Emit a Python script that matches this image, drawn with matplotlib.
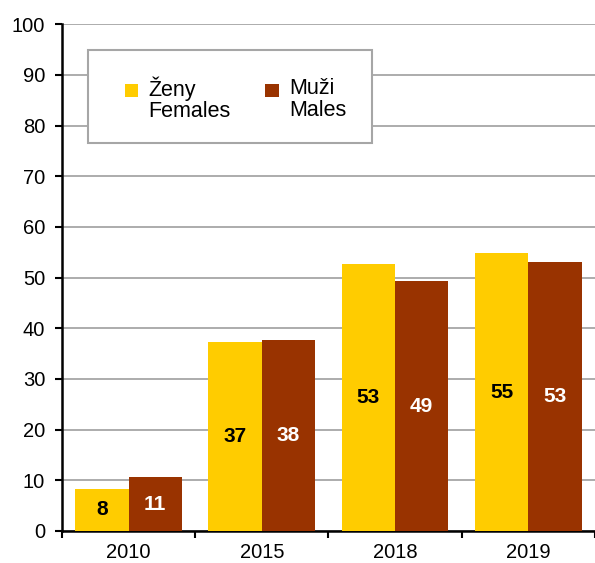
import numpy as np
import matplotlib.pyplot as plt
from matplotlib.patches import Rectangle
from matplotlib.container import BarContainer
from matplotlib.legend_handler import HandlerPatch

years = ["2010", "2015", "2018", "2019"]
females = [8.3, 37.3, 52.7, 54.8]
males = [10.6, 37.7, 49.3, 53.1]
female_labels = ["8", "37", "53", "55"]
male_labels = ["11", "38", "49", "53"]

plt.rcParams["font.family"] = ["Liberation Sans", "DejaVu Sans"]

fig = plt.figure(figsize=(5.95, 5.63), dpi=100)
ax = fig.add_axes([0.104, 0.057, 0.896, 0.9])

x = np.arange(len(years))
w = 0.4
bf = ax.bar(x - w / 2, females, w, color="#FFCC00", zorder=3, label="Ženy\nFemales")
bm = ax.bar(x + w / 2, males, w, color="#993300", zorder=3, label="Muži\nMales")

for rect, txt in zip(bf, female_labels):
    ax.text(rect.get_x() + rect.get_width() / 2, rect.get_height() / 2, txt,
            ha="center", va="center", fontsize=15, fontweight="bold", color="black", zorder=4)
for rect, txt in zip(bm, male_labels):
    ax.text(rect.get_x() + rect.get_width() / 2, rect.get_height() / 2, txt,
            ha="center", va="center", fontsize=15, fontweight="bold", color="white", zorder=4)

ax.set_ylim(0, 100)
ax.set_yticks(range(0, 101, 10))
ax.set_xlim(-0.5, 3.5)
ax.set_xticks(x)
ax.set_xticklabels(years)
ax.set_xticks(np.arange(-0.5, 4, 1), minor=True)
ax.tick_params(axis="x", which="major", length=0, pad=9, labelsize=14.5)
ax.tick_params(axis="x", which="minor", length=5, width=1.5, direction="out")
ax.tick_params(axis="y", length=5, width=1.5, labelsize=14.5, pad=7)

ax.grid(axis="y", color="#A6A6A6", linewidth=1.3, zorder=0)
ax.spines["top"].set_visible(False)
ax.spines["right"].set_visible(False)
ax.spines["left"].set_linewidth(1.8)
ax.spines["bottom"].set_linewidth(1.8)

# legend box drawn separately so it sits over the gridlines
box = Rectangle((0.0486, 0.765), 0.5327, 0.184, transform=ax.transAxes,
                facecolor="white", edgecolor="#A6A6A6", linewidth=1.5, zorder=2)
ax.add_patch(box)


def top_square(legend, orig_handle, xdescent, ydescent, width, height, fontsize):
    # square handle lifted to the first line of a two-line label
    s = 0.62 * fontsize
    return Rectangle((-xdescent, -ydescent + 0.45 * fontsize), s, s)


def first_bar(legend_handle, orig_handle):
    legend_handle.update_from(orig_handle.patches[0])


leg = ax.legend(loc="center", bbox_to_anchor=(0.326, 0.852), borderaxespad=0,
                ncol=2, fontsize=15.5, frameon=False,
                handlelength=0.62, handleheight=0.62, handletextpad=0.5,
                columnspacing=1.6, borderpad=0,
                handler_map={BarContainer: HandlerPatch(patch_func=top_square,
                                                        update_func=first_bar)})
leg.set_zorder(5)
for t in leg.get_texts():
    t.set_linespacing(1.05)

fig.savefig("out.png", dpi=100)
